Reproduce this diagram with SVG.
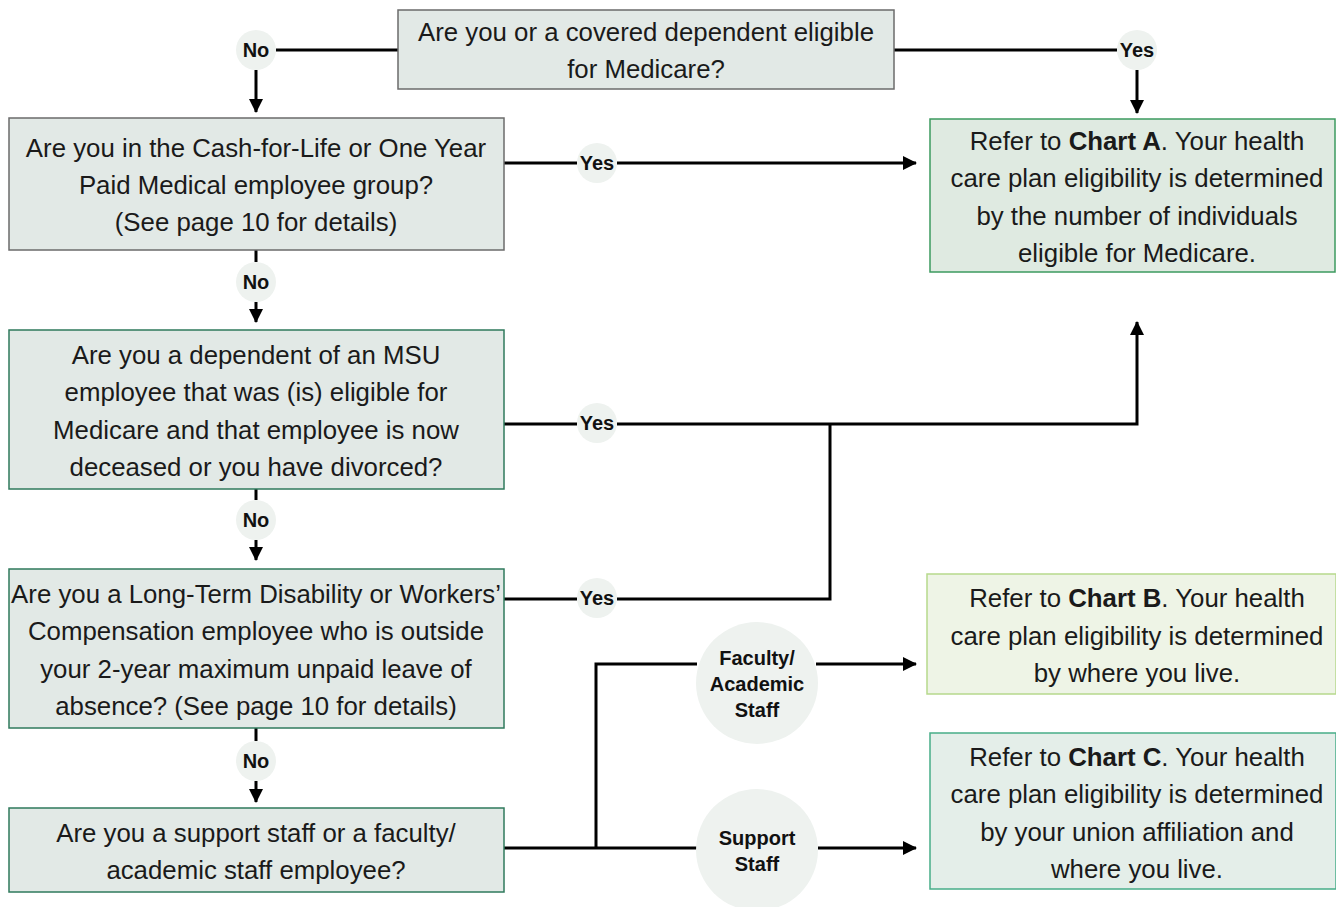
<svg xmlns="http://www.w3.org/2000/svg" width="1336" height="907" viewBox="0 0 1336 907">
<style>
.q{fill:#e2e9e6;stroke:#6b6b6b;stroke-width:1.5}
.qg{fill:#e2e9e6;stroke:#2f7a5c;stroke-width:1.5}
.ra{fill:#dfeae1;stroke:#3c9a5f;stroke-width:1.5}
.rb{fill:#eef4e6;stroke:#b6d98c;stroke-width:1.5}
.rc{fill:#e4eee9;stroke:#47ad88;stroke-width:1.5}
.t{font-family:"Liberation Sans",Arial,sans-serif;font-size:25.8px;fill:#1a1a1a;text-anchor:middle}
.lb{fill:#eef2ef}
.l{font-family:"Liberation Sans",Arial,sans-serif;font-size:20px;font-weight:bold;fill:#111;text-anchor:middle}
.c{fill:none;stroke:#000;stroke-width:3}
</style>
<defs>
<marker id="arr" markerWidth="14" markerHeight="14" refX="13" refY="7" orient="auto" markerUnits="userSpaceOnUse" viewBox="0 0 14 14">
<path d="M0,0 L14,7 L0,14 z" fill="#000"/>
</marker>
</defs>

<g id="connectors">
<path class="c" d="M276,50 H398"/>
<path class="c" d="M256,70 V112" marker-end="url(#arr)"/>
<path class="c" d="M894,50 H1117"/>
<path class="c" d="M1137,70 V113" marker-end="url(#arr)"/>
<path class="c" d="M504,163 H577"/>
<path class="c" d="M617,163 H916" marker-end="url(#arr)"/>
<path class="c" d="M256,250 V262"/>
<path class="c" d="M256,302 V322" marker-end="url(#arr)"/>
<path class="c" d="M504,424 H577"/>
<path class="c" d="M617,424 H1137 V322" marker-end="url(#arr)"/>
<path class="c" d="M504,599 H577"/>
<path class="c" d="M617,599 H830 V424"/>
<path class="c" d="M256,489 V500"/>
<path class="c" d="M256,540 V560" marker-end="url(#arr)"/>
<path class="c" d="M256,728 V741"/>
<path class="c" d="M256,781 V802" marker-end="url(#arr)"/>
<path class="c" d="M504,848 H697"/>
<path class="c" d="M596,848 V664 H697"/>
<path class="c" d="M816,664 H916" marker-end="url(#arr)"/>
<path class="c" d="M818,848 H916" marker-end="url(#arr)"/>
</g>

<g id="label-no-1"><circle class="lb" cx="256" cy="50" r="20"/><text class="l" x="256" y="57">No</text></g>
<g id="label-yes-1"><circle class="lb" cx="1137" cy="50" r="20"/><text class="l" x="1137" y="57">Yes</text></g>
<g id="label-yes-2"><circle class="lb" cx="597" cy="163" r="20"/><text class="l" x="597" y="170">Yes</text></g>
<g id="label-no-2"><circle class="lb" cx="256" cy="282" r="20"/><text class="l" x="256" y="289">No</text></g>
<g id="label-yes-3"><circle class="lb" cx="597" cy="423" r="20"/><text class="l" x="597" y="430">Yes</text></g>
<g id="label-no-3"><circle class="lb" cx="256" cy="520" r="20"/><text class="l" x="256" y="527">No</text></g>
<g id="label-yes-4"><circle class="lb" cx="597" cy="598" r="20"/><text class="l" x="597" y="605">Yes</text></g>
<g id="label-no-4"><circle class="lb" cx="256" cy="761" r="20"/><text class="l" x="256" y="768">No</text></g>
<g id="label-faculty"><circle class="lb" cx="757" cy="683" r="61"/>
<text class="l" x="757" y="665">Faculty/</text><text class="l" x="757" y="691">Academic</text><text class="l" x="757" y="717">Staff</text></g>
<g id="label-support"><circle class="lb" cx="757" cy="850" r="61"/>
<text class="l" x="757" y="845">Support</text><text class="l" x="757" y="871">Staff</text></g>

<g id="q1"><rect class="q" x="398" y="10" width="496" height="79"/>
<text class="t" x="646" y="41">Are you or a covered dependent eligible</text>
<text class="t" x="646" y="78">for Medicare?</text></g>

<g id="q2"><rect class="q" x="9" y="118" width="495" height="132"/>
<text class="t" x="256" y="157">Are you in the Cash-for-Life or One Year</text>
<text class="t" x="256" y="194">Paid Medical employee group?</text>
<text class="t" x="256" y="231">(See page 10 for details)</text></g>

<g id="q3"><rect class="qg" x="9" y="330" width="495" height="159"/>
<text class="t" x="256" y="364">Are you a dependent of an MSU</text>
<text class="t" x="256" y="401">employee that was (is) eligible for</text>
<text class="t" x="256" y="439">Medicare and that employee is now</text>
<text class="t" x="256" y="476">deceased or you have divorced?</text></g>

<g id="q4"><rect class="qg" x="9" y="569" width="495" height="159"/>
<text class="t" x="256" y="603">Are you a Long-Term Disability or Workers’</text>
<text class="t" x="256" y="640">Compensation employee who is outside</text>
<text class="t" x="256" y="678">your 2-year maximum unpaid leave of</text>
<text class="t" x="256" y="715">absence? (See page 10 for details)</text></g>

<g id="q5"><rect class="qg" x="9" y="808" width="495" height="84"/>
<text class="t" x="256" y="842">Are you a support staff or a faculty/</text>
<text class="t" x="256" y="879">academic staff employee?</text></g>

<g id="chart-a"><rect class="ra" x="930" y="119" width="405" height="153"/>
<text class="t" x="1137" y="150">Refer to <tspan font-weight="bold">Chart A</tspan>. Your health</text>
<text class="t" x="1137" y="187">care plan eligibility is determined</text>
<text class="t" x="1137" y="225">by the number of individuals</text>
<text class="t" x="1137" y="262">eligible for Medicare.</text></g>

<g id="chart-b"><rect class="rb" x="927" y="574" width="409" height="120"/>
<text class="t" x="1137" y="607">Refer to <tspan font-weight="bold">Chart B</tspan>. Your health</text>
<text class="t" x="1137" y="645">care plan eligibility is determined</text>
<text class="t" x="1137" y="682">by where you live.</text></g>

<g id="chart-c"><rect class="rc" x="930" y="733" width="406" height="156"/>
<text class="t" x="1137" y="766">Refer to <tspan font-weight="bold">Chart C</tspan>. Your health</text>
<text class="t" x="1137" y="803">care plan eligibility is determined</text>
<text class="t" x="1137" y="841">by your union affiliation and</text>
<text class="t" x="1137" y="878">where you live.</text></g>
</svg>
